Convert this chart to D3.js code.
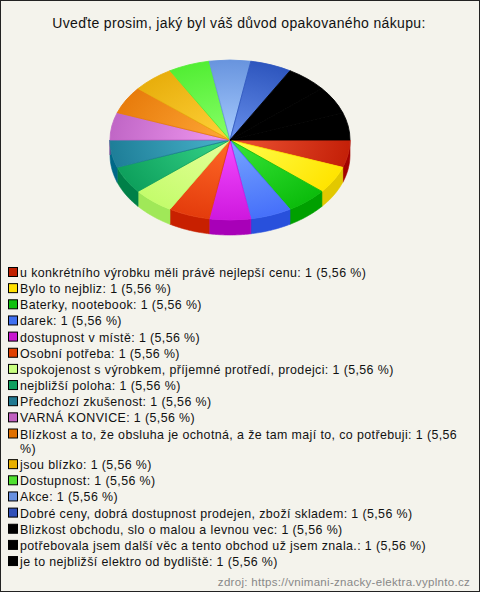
<!DOCTYPE html>
<html><head><meta charset="utf-8">
<script src="https://cdn.jsdelivr.net/npm/d3@7"></script>
<style>html,body{margin:0;padding:0;background:#f4f3ec;}svg{display:block;}</style>
</head><body>
<script>
const title = "Uveďte prosim, jaký byl váš důvod opakovaného nákupu:";
const categories = [
  "u konkrétního výrobku měli právě nejlepší cenu",
  "Bylo to nejbliz",
  "Baterky, nootebook",
  "darek",
  "dostupnost v místě",
  "Osobní potřeba",
  "spokojenost s výrobkem, příjemné protředí, prodejci",
  "nejbližší poloha",
  "Předchozí zkušenost",
  "VARNÁ KONVICE",
  "Blízkost a to, že obsluha je ochotná, a že tam mají to, co potřebuji",
  "jsou blízko",
  "Dostupnost",
  "Akce",
  "Dobré ceny, dobrá dostupnost prodejen, zboží skladem",
  "Blizkost obchodu, slo o malou a levnou vec",
  "potřebovala jsem další věc a tento obchod už jsem znala.",
  "je to nejbližší elektro od bydliště"
];
const values = [1,1,1,1,1,1,1,1,1,1,1,1,1,1,1,1,1,1];
const source = "zdroj: https://vnimani-znacky-elektra.vyplnto.cz";

// palette: [center, edge, side, legend]
const palette = [
  ["#ee5535","#c42008","#a20000","#c02000"],
  ["#ffff50","#ffe400","#e2c800","#ffe000"],
  ["#38e638","#0cbc0c","#00a000","#10c010"],
  ["#78a6ff","#4670fa","#2850dc","#4070f0"],
  ["#f44cff","#ce18de","#a800b8","#c818d0"],
  ["#ff6a28","#e43c0c","#c82000","#e04000"],
  ["#e6ff9a","#c4fc6c","#a0e858","#c8ff80"],
  ["#36d48a","#0ea05c","#008048","#10a060"],
  ["#4ab4cc","#1e7e98","#006888","#207890"],
  ["#f29af2","#c066c6","#9a4aa0","#c060c0"],
  ["#ffa838","#e87c0c","#c06000","#e07000"],
  ["#ffd23a","#e8ae0c","#c09000","#e8b000"],
  ["#88ff68","#52ee34","#30c020","#50e030"],
  ["#a8ccff","#6894de","#4870c0","#6890e0"],
  ["#6890ec","#2e56be","#1c3c98","#3050b8"],
  ["#000000","#000000","#000000","#000000"],
  ["#000000","#000000","#000000","#000000"],
  ["#000000","#000000","#000000","#000000"]
];

const W = 480, H = 592;
const cx = 230, cy = 140, rx = 120, ry = 80, depth = 15;

const svg = d3.select("body").append("svg").attr("width", W).attr("height", H)
  .style("font-family", "'Liberation Sans', Arial, sans-serif");
svg.append("rect").attr("x",0.5).attr("y",0.5).attr("width",W-1).attr("height",H-1)
  .attr("fill","#f4f3ec").attr("stroke","#222");

svg.append("text").attr("x", 239).attr("y", 28).attr("text-anchor","middle")
  .attr("font-size", 14).attr("letter-spacing", 0.35).attr("fill","#111").text(title);

const pie = d3.pie().sort(null).value(d => d)
  .startAngle(Math.PI/2).endAngle(Math.PI/2 + 2*Math.PI);
const arcs = pie(values);
const arc = d3.arc().innerRadius(0).outerRadius(rx);

const defs = svg.append("defs");
arcs.forEach((a,i) => {
  const g = defs.append("radialGradient").attr("id","g"+i)
    .attr("gradientUnits","userSpaceOnUse").attr("cx",0).attr("cy",0).attr("r",rx);
  g.append("stop").attr("offset","0%").attr("stop-color", palette[i][0]);
  g.append("stop").attr("offset","100%").attr("stop-color", palette[i][1]);
});

// sides (front half: angle in (pi/2, 3pi/2))
const sideG = svg.append("g");
const ex = a => cx + rx*Math.sin(a);
const ey = a => cy - ry*Math.cos(a);
arcs.forEach((a,i) => {
  const a0 = Math.max(a.startAngle, Math.PI/2), a1 = Math.min(a.endAngle, 3*Math.PI/2);
  if (a1 <= a0) return;
  const p = d3.path();
  p.moveTo(ex(a0), ey(a0));
  const n = 24;
  for (let k=1;k<=n;k++){ const t=a0+(a1-a0)*k/n; p.lineTo(ex(t), ey(t)); }
  for (let k=n;k>=0;k--){ const t=a0+(a1-a0)*k/n; p.lineTo(ex(t), ey(t)+depth); }
  p.closePath();
  sideG.append("path").attr("d", p.toString()).attr("fill", palette[i][2])
    .attr("stroke", palette[i][2]).attr("stroke-width",0.6);
});

const topG = svg.append("g").attr("transform", `translate(${cx},${cy}) scale(1,${ry/rx})`);
topG.selectAll("path").data(arcs).join("path")
  .attr("d", arc).attr("fill", (d,i) => `url(#g${i})`)
  .attr("stroke", (d,i)=>palette[i][1]).attr("stroke-width",1)
  .attr("stroke-linejoin","round");

// legend
const total = d3.sum(values);
const fmt = v => d3.format(".2f")(v).replace(".", ",");
const leg = svg.append("g");
let y = 277;
const fs = 12.4, lineH = 14.5, itemGap = 16.15, maxW = 448;
categories.forEach((c,i) => {
  const label = `${c}: ${values[i]} (${fmt(values[i]/total*100)} %)`;
  leg.append("rect").attr("x",8.5).attr("y",y-9.5).attr("width",9).attr("height",9)
    .attr("fill", palette[i][3]).attr("stroke","#000").attr("stroke-width",1);
  const t = leg.append("text").attr("x",20).attr("y",y).attr("font-size",fs)
    .attr("letter-spacing",0.4).attr("fill","#111");
  const words = label.split(" ");
  let line = [], lines = 0;
  let ts = t.append("tspan").attr("x",20).attr("y",y);
  words.forEach(w => {
    line.push(w);
    ts.text(line.join(" "));
    if (ts.node().getComputedTextLength() > maxW && line.length > 1) {
      line.pop(); ts.text(line.join(" "));
      line = [w]; lines++;
      ts = t.append("tspan").attr("x",20).attr("y", y + lines*lineH).text(w);
    }
  });
  y += itemGap + lines*lineH;
});

svg.append("text").attr("x", 470).attr("y", 586).attr("text-anchor","end")
  .attr("font-size", 11.5).attr("letter-spacing",0.3).attr("fill","#888").text(source);
</script>
</body></html>
